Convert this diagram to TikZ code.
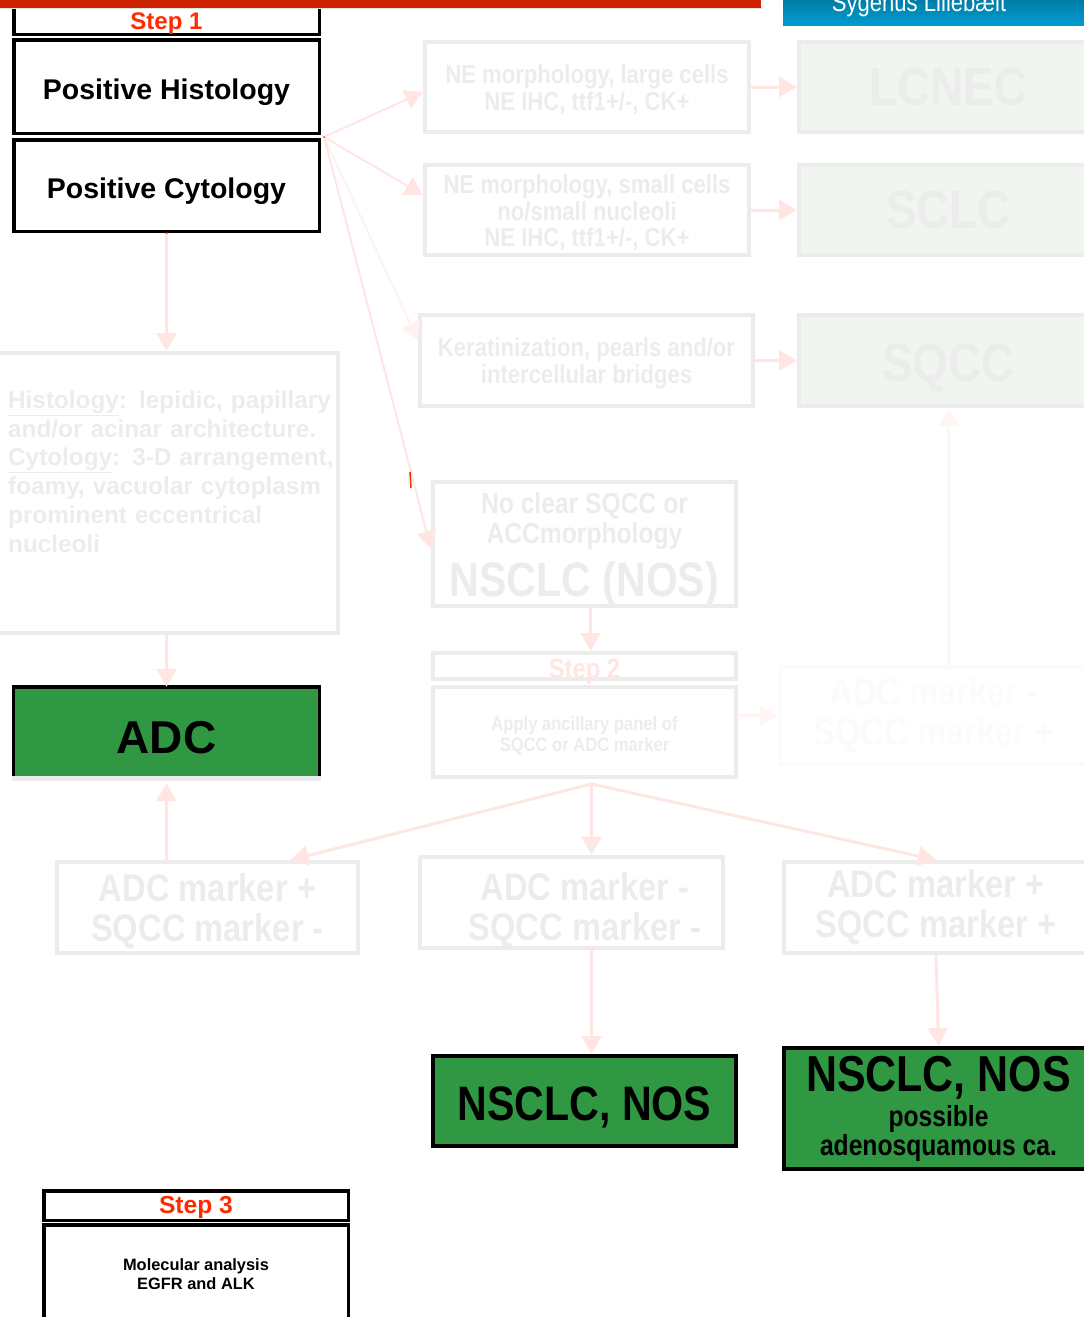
\documentclass[tikz,border=0pt]{standalone}
\usepackage{fontspec}
\setmainfont{Liberation Sans}
\newfontfamily\condfont[FakeStretch=0.85]{Liberation Sans}
\usetikzlibrary{arrows.meta}

% 色
\definecolor{barred}{RGB}{205,35,0}
\definecolor{stepred}{RGB}{255,42,0}
\definecolor{banner}{RGB}{0,156,208}
\definecolor{fadeline}{RGB}{236,236,236}
\definecolor{fadetext}{RGB}{236,236,236}
\definecolor{ghost}{RGB}{251,251,251}
\definecolor{palegreen}{RGB}{240,246,239}
\definecolor{fadepink}{RGB}{255,230,226}
\definecolor{adcgreen}{RGB}{48,152,66}

\newcommand\fsz[2]{\fontsize{#1}{#2}\selectfont}
\newcommand\lift[1]{\rule{0pt}{#1}} % 一行目を下げる

\begin{document}
\begin{tikzpicture}[x=1pt,y=-1pt,
  fade/.style={draw=fadeline,line width=4pt,text=fadetext,align=center,inner sep=0pt},
  fadegreen/.style={fade,fill=palegreen},
  stepbox/.style={draw=black,line width=3.5pt,fill=white,align=center,inner sep=0pt},
  result/.style={draw=black,line width=4pt,fill=adcgreen,align=center,inner sep=0pt},
  arr/.style={draw=fadepink,line width=3pt,-{Triangle[length=18pt,width=20pt]}}]
  \useasboundingbox (0,0) rectangle (1084,1317);
  \clip (0,0) rectangle (1084,1317);

  % Step 1
  \node[stepbox,minimum width=305.5pt,minimum height=30.5pt,text height=21.2pt,text depth=0pt,
    font=\bfseries\fsz{24}{24}] (step1) at (166.5,19) {\color{stepred}Step 1};
  \node[stepbox,minimum width=305.5pt,minimum height=93.5pt,text height=25.4pt,text depth=0pt,
    font=\bfseries\fsz{28.5}{30}] (hist) at (166.5,86.5) {Positive Histology};
  \node[stepbox,minimum width=305.5pt,minimum height=91.5pt,text height=25.4pt,text depth=0pt,
    font=\bfseries\fsz{28.5}{30}] (cyto) at (166.5,185.5) {Positive Cytology};

  % 上の帯
  \fill[black!12] (0,7) rectangle (763,9);
  \fill[barred] (0,0) rectangle (761,8);
  \shade[top color=banner!80!black,bottom color=banner] (783,0) rectangle (1084,25);
  \node[anchor=base,text=white,font=\condfont\fsz{26}{26},inner sep=0pt] (site) at (919,11) {Sygehus Lillebælt};

  % NE / SQCC 列
  \node[fade,minimum width=324pt,minimum height=90pt,font=\condfont\bfseries\fsz{26}{27}]
    (ne1) at (587,87) {\lift{25pt}NE morphology, large cells\\NE IHC, ttf1+/-, CK+};
  \node[fade,minimum width=324pt,minimum height=90pt,font=\condfont\bfseries\fsz{26}{26.5}]
    (ne2) at (587,210) {\lift{25pt}NE morphology, small cells\\no/small nucleoli\\NE IHC, ttf1+/-, CK+};
  \node[fade,minimum width=333pt,minimum height=91pt,font=\condfont\bfseries\fsz{26}{27}]
    (kerat) at (586.5,360.5) {\lift{25pt}Keratinization, pearls and/or\\intercellular bridges};
  \node[fadegreen,minimum width=299pt,minimum height=90pt,font=\condfont\bfseries\fsz{54}{54}]
    (lcnec) at (948.5,87) {LCNEC};
  \node[fadegreen,minimum width=299pt,minimum height=90pt,font=\condfont\bfseries\fsz{54}{54}]
    (sclc) at (948.5,210) {SCLC};
  \node[fadegreen,minimum width=299pt,minimum height=91pt,text height=41.6pt,text depth=0pt,
    font=\condfont\bfseries\fsz{54}{54}] (sqcc) at (948.5,360.5) {SQCC};

  % NSCLC (NOS)
  \node[fade,minimum width=303pt,minimum height=122pt,font=\condfont\bfseries\fsz{29}{30}]
    (nos) at (584.5,544) {\lift{32pt}No clear SQCC or\\ACCmorphology\\[10pt]{\fsz{48.3}{48}NSCLC (NOS)}};

  % 腺癌の所見
  \node[fade,minimum width=346pt,minimum height=280pt] (histo) at (165,493) {};
  \node[anchor=north west,text width=340pt,align=left,inner sep=0pt,text=fadetext,
    font=\bfseries\fsz{24.3}{28.8}] (histotxt) at (8,390.5)
    {\underline{Histology}: lepidic, papillary\\
     and/or acinar architecture.\\
     \underline{Cytology}: 3-D arrangement,\\
     foamy, vacuolar cytoplasm\\
     prominent eccentrical\\
     nucleoli};

  % ADC
  \node[fill=adcgreen,minimum width=306pt,minimum height=89pt,inner sep=0pt,
    text height=44pt,text depth=0pt,font=\bfseries\fsz{46}{46}] (adc) at (166.5,731.5) {ADC};
  \draw[line width=3.5pt] (adc.south west) |- (adc.north east) -- (adc.south east);
  \fill[fadeline] ([xshift=-1.75pt]adc.south west) rectangle ([xshift=1.75pt,yshift=-5pt]adc.south east);

  % Step 2
  \node[fade,minimum width=303pt,minimum height=26pt,text=fadepink,text height=24pt,text depth=0pt,
    font=\condfont\bfseries\fsz{28}{28}] (step2h) at (584.5,666) {Step 2};
  \node[fade,minimum width=303pt,minimum height=90pt,font=\condfont\bfseries\fsz{19.5}{21}]
    (step2) at (584.5,732) {\lift{22pt}Apply ancillary panel of\\SQCC or ADC marker};
  \node[draw=ghost,line width=4pt,text=ghost,align=center,inner sep=0pt,
    minimum width=308pt,minimum height=97pt,font=\condfont\bfseries\fsz{38.5}{40}]
    (mkfaint) at (934,715.5) {ADC marker -\\SQCC marker +};

  % マーカー
  \node[fade,minimum width=301pt,minimum height=91pt,font=\condfont\bfseries\fsz{38.5}{40}]
    (mkl) at (207.5,907.5) {\lift{36pt}ADC marker +\\SQCC marker -};
  \node[fade,minimum width=303pt,minimum height=91pt,font=\condfont\bfseries\fsz{38.5}{40}]
    (mkm) at (571.5,902.5) {\lift{44pt}\hspace*{27pt}ADC marker -\\\hspace*{27pt}SQCC marker -};
  \node[fade,minimum width=304pt,minimum height=91pt,font=\condfont\bfseries\fsz{38.5}{40}]
    (mkr) at (936,907.5) {ADC marker +\\SQCC marker +};

  % 結果
  \node[result,minimum width=303pt,minimum height=90pt,text height=38pt,text depth=0pt,
    font=\condfont\bfseries\fsz{48.4}{48}] (nosm) at (584.5,1101) {NSCLC, NOS};
  \node[result,minimum width=309pt,minimum height=121pt,font=\condfont\bfseries\fsz{29}{29}]
    (nosr) at (938.5,1108.5) {{\fsz{50.5}{50}NSCLC, NOS}\\[6pt]possible\\adenosquamous ca.};

  % Step 3
  \node[stepbox,minimum width=304.5pt,minimum height=29.5pt,text height=16.6pt,text depth=0pt,
    font=\bfseries\fsz{24.6}{24}] (step3) at (196,1205.5) {\color{stepred}Step 3};
  \node[stepbox,minimum width=304.5pt,minimum height=97.5pt,
    font=\bfseries\fsz{16.4}{19}] (mol) at (196,1273.5) {\lift{14pt}Molecular analysis\\EGFR and ALK};

  % 矢印
  \coordinate (fan) at (324,137);
  \draw[arr,line width=2pt] (fan) -- ([yshift=-5pt]ne1.west);
  \draw[arr,line width=2pt] (fan) -- ([yshift=15pt]ne2.west);
  \draw[arr,line width=2pt,draw=fadepink!50] (fan) -- ([yshift=20pt]kerat.west);
  \draw[arr,line width=2pt] (fan) -- ([yshift=-5pt]nos.west);
  \draw[arr] (ne1.east) -- (lcnec.west);
  \draw[arr] (ne2.east) -- (sclc.west);
  \draw[arr] (kerat.east) -- (sqcc.west);
  \draw[arr,draw=fadepink!40] (mkfaint.north -| sqcc.south) -- (sqcc.south);
  \draw[arr] (cyto.south) -- (histo.north -| cyto.south);
  \draw[arr] (histo.south -| adc.north) -- (adc.north);
  \draw[arr] ([xshift=6pt]nos.south) -- ([xshift=6pt]step2h.north);
  \draw[arr,draw=fadepink!40] (step2.east |- mkfaint.west) -- (mkfaint.west);
  \coordinate (split) at ([xshift=7pt,yshift=-5pt]step2.south);
  \draw[arr] (split) -- ([xshift=83pt]mkl.north);
  \draw[arr] (split) -- (split |- mkm.north);
  \draw[arr] (split) -- (mkr.north);
  \draw[arr] (mkl.north -| adc.south) -- ([yshift=-7pt]adc.south);
  \draw[arr] (mkm.south -| split) -- (nosm.north -| split);
  \draw[arr] (mkr.south) -- (nosr.north);

  % 赤い点
  \fill[stepred] (fan) circle (1pt);
  \fill[stepred] (cyto.south) circle (1pt);
  \draw[stepred,line width=1.5pt] (410,472) -- (411,488);
\end{tikzpicture}
\end{document}
